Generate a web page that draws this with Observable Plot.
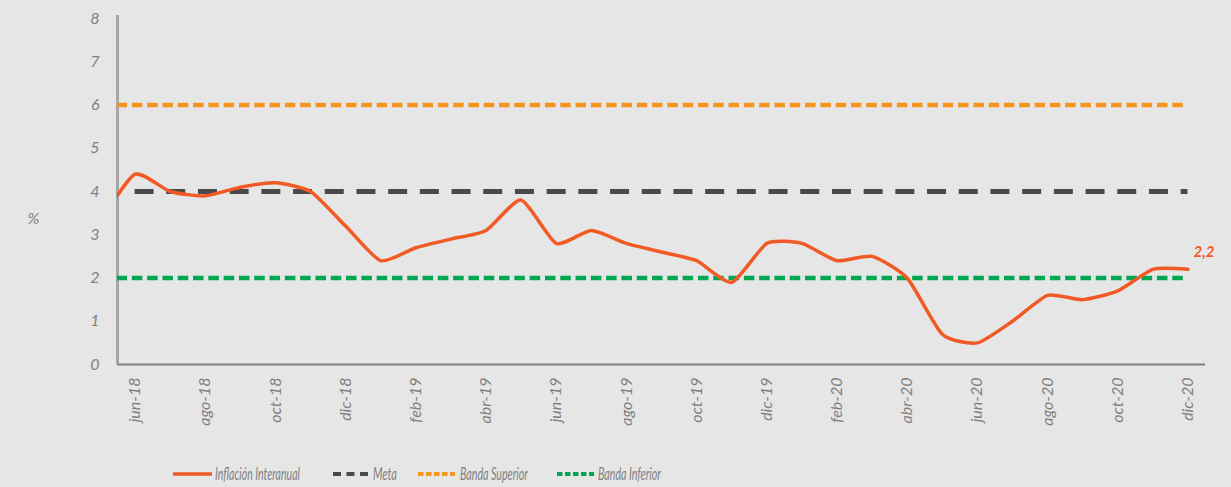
<!DOCTYPE html>
<html><head><meta charset="utf-8">
<script src="https://cdn.jsdelivr.net/npm/d3@7"></script>
<script src="https://cdn.jsdelivr.net/npm/@observablehq/plot@0.6"></script>
<style>
html,body{margin:0;padding:0;background:#e6e6e6;}
#chart{width:1231px;height:487px;position:relative;overflow:hidden;background:#e6e6e6}
#chart svg{display:block}
</style></head><body><div id="chart"></div>
<script>
// Months (may-18 is only partly visible, clipped at the axis)
const months = ["may-18","jun-18","jul-18","ago-18","sep-18","oct-18","nov-18","dic-18",
  "ene-19","feb-19","mar-19","abr-19","may-19","jun-19","jul-19","ago-19","sep-19","oct-19","nov-19","dic-19",
  "ene-20","feb-20","mar-20","abr-20","may-20","jun-20","jul-20","ago-20","sep-20","oct-20","nov-20","dic-20"];
const inflacion = [3.3,4.4,4.0,3.9,4.1,4.2,4.0,3.2,
  2.4,2.7,2.9,3.1,3.8,2.8,3.1,2.8,2.6,2.4,1.9,2.8,
  2.8,2.4,2.5,2.0,0.7,0.5,1.0,1.6,1.5,1.7,2.2,2.2];
const tickMonths = ["jun-18","ago-18","oct-18","dic-18","feb-19","abr-19","jun-19","ago-19",
  "oct-19","dic-19","feb-20","abr-20","jun-20","ago-20","oct-20","dic-20"];
const yTicks = [0,1,2,3,4,5,6,7,8];
const meta = 4, bandaSuperior = 6, bandaInferior = 2;
const seriesNames = ["Inflación Interanual","Meta","Banda Superior","Banda Inferior"];

const C = {infl:"#f15a24", meta:"#4a4a4a", sup:"#f7941d", inf:"#00a651", axis:"#808080", text:"#7f7f7f"};

const idx = m => months.indexOf(m);
const lineData = months.map((m,i)=>({i, v:inflacion[i]}));
const last = lineData[lineData.length-1];

const plot = Plot.plot({
  width:1231, height:455,
  marginLeft:117, marginRight:26, marginTop:18, marginBottom:91,
  style:{background:"transparent", fontFamily:"Lato", fontStyle:"italic", fontSize:"16px", color:C.text},
  x:{type:"linear", domain:[0.5, months.length-0.5]},
  y:{domain:[0,8]},
  marks:[
    Plot.axisY({ticks:yTicks, tickSize:0, tickPadding:18, label:null, fill:C.text}),
    Plot.axisX({ticks:tickMonths.map(idx), tickFormat:i=>months[i], tickRotate:-90, tickSize:0, tickPadding:13, label:null, fill:C.text}),
    Plot.text(["%"], {frameAnchor:"left", dx:-90, dy:27, fill:C.text, fontSize:16, fontStyle:"italic"}),
    Plot.ruleX([0.5], {stroke:"#a6a6a6", strokeWidth:3, insetTop:-3}),
    Plot.ruleY([0], {stroke:C.axis, strokeWidth:2}),
    Plot.ruleY([{v:bandaSuperior, a:"may-18", b:"dic-20"}], {y:"v", x1:d=>idx(d.a), x2:d=>idx(d.b), stroke:C.sup, strokeWidth:4.5, strokeDasharray:"10.5,4.8", strokeDashoffset:-1.8, clip:true}),
    Plot.ruleY([{v:bandaInferior, a:"may-18", b:"dic-20"}], {y:"v", x1:d=>idx(d.a), x2:d=>idx(d.b), stroke:C.inf, strokeWidth:4.5, strokeDasharray:"10.5,4.8", strokeDashoffset:-1.8, clip:true}),
    Plot.ruleY([{v:meta, a:"jun-18", b:"dic-20"}], {y:"v", x1:d=>idx(d.a), x2:d=>idx(d.b), stroke:C.meta, strokeWidth:5, strokeDasharray:"19,12.7"}),
    Plot.line(lineData, {x:"i", y:"v", stroke:C.infl, strokeWidth:3.5, curve:"cardinal", tension:0.4, clip:true}),
    Plot.text([last], {x:"i", y:"v", text:d=>String(d.v).replace(".", ","), dx:16, dy:-17, fill:C.infl, fontSize:15, fontWeight:"bold", fontStyle:"italic"})
  ]
});
document.getElementById("chart").appendChild(plot);

// Legend below the chart
const leg = d3.select("#chart").append("svg").attr("width",1231).attr("height",32);
const cy = 19;
const items = [
  {name:seriesNames[0], x0:173, x1:212, tx:215, tl:85, stroke:C.infl, w:3.5, dash:null},
  {name:seriesNames[1], x0:333, x1:370, tx:373, tl:24, stroke:C.meta, w:4, dash:"8,5.5"},
  {name:seriesNames[2], x0:418, x1:455, tx:460, tl:68, stroke:C.sup, w:4, dash:"5.5,2.5"},
  {name:seriesNames[3], x0:557, x1:594, tx:598, tl:63, stroke:C.inf, w:4, dash:"5.5,2.5"}
];
items.forEach(d=>{
  leg.append("line").attr("x1",d.x0).attr("x2",d.x1).attr("y1",cy).attr("y2",cy)
    .attr("stroke",d.stroke).attr("stroke-width",d.w).attr("stroke-dasharray",d.dash);
  leg.append("text").attr("x",d.tx).attr("y",cy).attr("dy","0.35em")
    .attr("textLength",d.tl).attr("lengthAdjust","spacingAndGlyphs")
    .attr("fill",C.text).style("font-family","Lato").style("font-style","italic").style("font-size","17px")
    .text(d.name);
});
</script></body></html>
